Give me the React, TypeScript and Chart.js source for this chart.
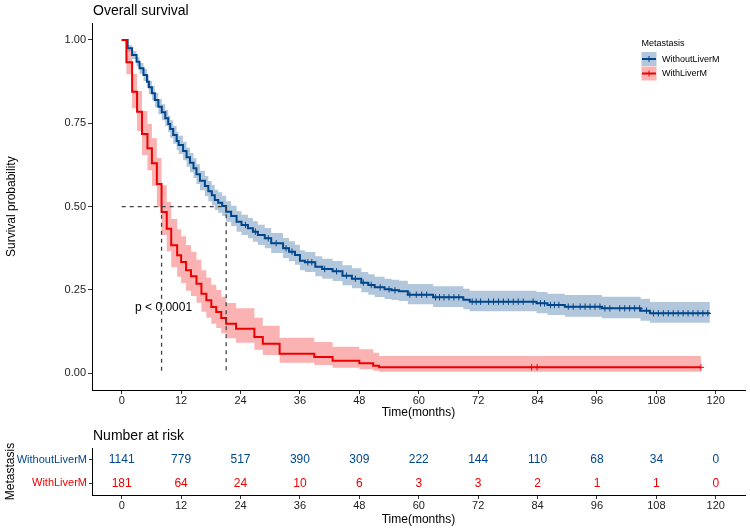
import React, { useEffect, useRef } from 'react';
import { Chart, registerables } from 'chart.js';

Chart.register(...registerables);

const FONT = "'Liberation Sans', Arial, Helvetica, sans-serif";

// ---------------- data ----------------
const strata = ['WithoutLiverM', 'WithLiverM'];
const colors = ['#00468B', '#ED0000'];
const bandColors = ['rgba(0,70,139,0.3)', 'rgba(237,0,0,0.3)'];

const blueTime = [0, 1.2, 2.1, 3.0, 3.6, 4.4, 5.1, 5.5, 6.1, 6.7, 7.4, 8.1, 8.8, 9.4, 9.8, 10.4, 11.1, 11.5, 12.4, 13.1, 13.8, 14.5, 15.1, 15.8, 16.8, 17.5, 18.2, 18.8, 19.5, 20.3, 21.1, 22.1, 23.2, 24.2, 25.5, 26.5, 27.5, 28.9, 30.2, 32.6, 33.8, 35.0, 36.0, 37.0, 39.1, 40.5, 42.6, 44.6, 46.5, 48.4, 49.8, 51.1, 53.1, 54.5, 56.0, 57.8, 62.9, 69.0, 70.3, 83.8, 86.0, 89.5, 97.0, 104.8, 106.7, 118.8];
const blueSurv = [1.0, 0.975, 0.955, 0.935, 0.915, 0.895, 0.875, 0.858, 0.84, 0.82, 0.80, 0.783, 0.765, 0.748, 0.733, 0.715, 0.697, 0.685, 0.667, 0.648, 0.632, 0.615, 0.597, 0.578, 0.562, 0.546, 0.534, 0.52, 0.512, 0.502, 0.485, 0.472, 0.455, 0.445, 0.435, 0.425, 0.415, 0.405, 0.39, 0.375, 0.365, 0.355, 0.338, 0.333, 0.32, 0.313, 0.306, 0.293, 0.284, 0.272, 0.265, 0.258, 0.252, 0.249, 0.246, 0.236, 0.228, 0.221, 0.215, 0.21, 0.205, 0.2, 0.195, 0.188, 0.18, 0.18];
const blueLower = [1.0, 0.966, 0.943, 0.921, 0.899, 0.877, 0.856, 0.838, 0.819, 0.798, 0.777, 0.759, 0.741, 0.723, 0.707, 0.689, 0.670, 0.658, 0.639, 0.620, 0.603, 0.586, 0.568, 0.549, 0.532, 0.516, 0.504, 0.490, 0.482, 0.472, 0.455, 0.442, 0.425, 0.415, 0.405, 0.395, 0.385, 0.375, 0.361, 0.346, 0.336, 0.326, 0.309, 0.304, 0.291, 0.284, 0.277, 0.264, 0.255, 0.243, 0.236, 0.229, 0.223, 0.220, 0.217, 0.207, 0.199, 0.192, 0.186, 0.180, 0.175, 0.170, 0.165, 0.158, 0.152, 0.152];
const blueUpper = [1.0, 0.984, 0.967, 0.949, 0.931, 0.913, 0.894, 0.878, 0.861, 0.842, 0.823, 0.807, 0.790, 0.773, 0.759, 0.742, 0.724, 0.713, 0.695, 0.677, 0.661, 0.645, 0.627, 0.608, 0.592, 0.577, 0.565, 0.551, 0.543, 0.533, 0.516, 0.503, 0.486, 0.476, 0.466, 0.456, 0.446, 0.436, 0.421, 0.406, 0.396, 0.386, 0.369, 0.364, 0.351, 0.344, 0.337, 0.324, 0.315, 0.304, 0.297, 0.290, 0.284, 0.281, 0.278, 0.268, 0.261, 0.254, 0.248, 0.244, 0.239, 0.235, 0.230, 0.224, 0.214, 0.214];
const blueCensor = [25.0, 27.0, 29.6, 31.2, 33.2, 34.4, 37.6, 38.4, 41.0, 43.4, 45.4, 47.2, 48.8, 50.4, 52.2, 54.0, 55.2, 58.2, 59.5, 60.6, 61.6, 63.4, 64.2, 65.1, 66.1, 67.1, 68.1, 70.8, 71.6, 72.5, 74.1, 75.1, 76.1, 77.1, 78.1, 79.1, 80.1, 81.1, 83.1, 84.6, 85.4, 86.6, 87.4, 88.3, 90.2, 91.2, 92.6, 93.6, 94.6, 95.6, 96.6, 97.6, 98.6, 100.6, 101.6, 102.6, 103.6, 104.6, 106.0, 107.4, 108.4, 109.4, 110.4, 111.4, 112.4, 113.4, 114.4, 115.4, 116.4, 117.4, 118.4];

const redTime = [0, 0.95, 2.1, 3.1, 4.1, 5.2, 6.1, 7.1, 8.05, 9.1, 10.0, 11.2, 12.0, 13.0, 14.0, 15.1, 16.1, 17.1, 18.1, 19.1, 20.1, 21.1, 23.1, 26.8, 28.5, 31.9, 38.9, 42.6, 48.0, 50.8, 52.0, 117.0];
const redSurv = [1.0, 0.933, 0.845, 0.785, 0.718, 0.675, 0.63, 0.568, 0.484, 0.434, 0.384, 0.354, 0.334, 0.309, 0.291, 0.269, 0.239, 0.219, 0.199, 0.184, 0.166, 0.149, 0.134, 0.109, 0.089, 0.059, 0.049, 0.038, 0.030, 0.023, 0.018, 0.018];
const redLower = [1.0, 0.897, 0.795, 0.727, 0.655, 0.609, 0.563, 0.499, 0.415, 0.366, 0.318, 0.290, 0.271, 0.248, 0.232, 0.212, 0.185, 0.167, 0.149, 0.136, 0.120, 0.105, 0.092, 0.071, 0.055, 0.032, 0.025, 0.017, 0.012, 0.008, 0.005, 0.005];
const redUpper = [1.0, 0.970, 0.898, 0.847, 0.787, 0.748, 0.705, 0.646, 0.564, 0.514, 0.463, 0.432, 0.411, 0.385, 0.365, 0.341, 0.309, 0.287, 0.266, 0.250, 0.230, 0.211, 0.195, 0.167, 0.143, 0.107, 0.094, 0.080, 0.072, 0.062, 0.052, 0.052];
const redCensor = [82.8, 83.9, 117.0];

const medianBlue = 21.1;
const medianRed = 8.05;
const medianLevel = 0.5;

const xTicks = [0, 12, 24, 36, 48, 60, 72, 84, 96, 108, 120];
const yTicks = [0, 0.25, 0.5, 0.75, 1.0];

const riskTimes = [0, 12, 24, 36, 48, 60, 72, 84, 96, 108, 120];
const riskWithout = [1141, 779, 517, 390, 309, 222, 144, 110, 68, 34, 0];
const riskWith = [181, 64, 24, 10, 6, 3, 3, 2, 1, 1, 0];

const titleText = 'Overall survival';
const riskTitle = 'Number at risk';
const pValueText = 'p < 0.0001';
const xTitle = 'Time(months)';
const yTitle = 'Survival probability';
const legendTitle = 'Metastasis';

// ---------------- helpers ----------------
const toPts = (t: number[], v: number[]) => t.map((x, i) => ({ x, y: v[i] }));
const stepAt = (t: number[], v: number[], at: number) => {
  let val = v[0];
  for (let i = 0; i < t.length; i++) if (t[i] <= at) val = v[i];
  return val;
};

const X_MIN = -6;
const X_MAX = 125.9;
const LEFT_W = 92;

const bandDs = (data: any[], color: string, fill: any, order: number) => ({
  data,
  stepped: true,
  borderWidth: 0.01,
  borderColor: 'rgba(0,0,0,0)',
  backgroundColor: color,
  fill,
  pointRadius: 0,
  order,
});

const topDecor = {
  id: 'topDecor',
  afterDraw(chart: any) {
    const { ctx, chartArea, scales } = chart;
    ctx.save();
    ctx.fillStyle = '#000';
    ctx.textBaseline = 'middle';
    ctx.textAlign = 'left';
    ctx.font = `14px ${FONT}`;
    ctx.fillText(titleText, chartArea.left + 1, 11);
    ctx.font = `12px ${FONT}`;
    ctx.fillText(pValueText, scales.x.getPixelForValue(2.7), scales.y.getPixelForValue(0.197));
    // legend
    ctx.font = `9px ${FONT}`;
    ctx.fillText(legendTitle, 641.5, 43.5);
    strata.forEach((s, i) => {
      const y0 = 52 + i * 14.5;
      ctx.fillStyle = bandColors[i];
      ctx.fillRect(641.5, y0, 15, 14);
      ctx.strokeStyle = colors[i];
      ctx.lineWidth = 2;
      ctx.beginPath();
      ctx.moveTo(642, y0 + 7);
      ctx.lineTo(656, y0 + 7);
      ctx.stroke();
      ctx.lineWidth = 1;
      ctx.beginPath();
      ctx.moveTo(649, y0 + 4);
      ctx.lineTo(649, y0 + 10);
      ctx.stroke();
      ctx.fillStyle = '#000';
      ctx.fillText(s, 662, y0 + 7.5);
    });
    ctx.restore();
  },
};

const botDecor = {
  id: 'botDecor',
  afterDraw(chart: any) {
    const { ctx, chartArea } = chart;
    ctx.save();
    ctx.fillStyle = '#000';
    ctx.textBaseline = 'middle';
    ctx.textAlign = 'left';
    ctx.font = `14px ${FONT}`;
    ctx.fillText(riskTitle, chartArea.left + 1, 12);
    ctx.textAlign = 'center';
    ctx.font = `12px ${FONT}`;
    chart.data.datasets.forEach((ds: any, i: number) => {
      const meta = chart.getDatasetMeta(i);
      ctx.fillStyle = colors[i];
      meta.data.forEach((pt: any, j: number) => {
        ctx.fillText(String(ds.data[j].n), pt.x, pt.y);
      });
    });
    ctx.restore();
  },
};

const axisCommon = {
  border: { display: true, color: '#000', width: 1 },
  grid: { drawOnChartArea: false, drawTicks: true, tickLength: 4, color: '#333' },
};

function topConfig(): any {
  return {
    type: 'line',
    data: {
      datasets: [
        bandDs(toPts(blueTime, blueUpper), bandColors[0], '+1', 6),
        bandDs(toPts(blueTime, blueLower), bandColors[0], false, 6),
        bandDs(toPts(redTime, redUpper), bandColors[1], '+1', 5),
        bandDs(toPts(redTime, redLower), bandColors[1], false, 5),
        {
          label: strata[0],
          data: toPts(blueTime, blueSurv),
          stepped: true,
          borderColor: colors[0],
          borderWidth: 2,
          pointRadius: 0,
          fill: false,
          order: 4,
        },
        {
          label: strata[1],
          data: toPts(redTime, redSurv),
          stepped: true,
          borderColor: colors[1],
          borderWidth: 2,
          pointRadius: 0,
          fill: false,
          order: 3,
        },
        {
          label: 'median',
          data: [
            { x: 0, y: medianLevel },
            { x: medianBlue, y: medianLevel },
            { x: medianBlue, y: 0 },
            { x: medianBlue, y: null },
            { x: medianRed, y: medianLevel },
            { x: medianRed, y: 0 },
          ],
          borderColor: '#444',
          borderWidth: 1.3,
          borderDash: [4, 4],
          pointRadius: 0,
          spanGaps: false,
          fill: false,
          order: 2,
        },
        {
          label: 'blueCensor',
          data: blueCensor.map((t) => ({ x: t, y: stepAt(blueTime, blueSurv, t) })),
          showLine: false,
          pointStyle: 'cross',
          pointRadius: 3.2,
          pointBorderColor: colors[0],
          pointBorderWidth: 1,
          order: 1,
        },
        {
          label: 'redCensor',
          data: redCensor.map((t) => ({ x: t, y: stepAt(redTime, redSurv, t) })),
          showLine: false,
          pointStyle: 'cross',
          pointRadius: 3.2,
          pointBorderColor: colors[1],
          pointBorderWidth: 1,
          order: 0,
        },
      ],
    },
    options: {
      responsive: false,
      animation: false,
      devicePixelRatio: 1,
      layout: { padding: { left: 0, right: 5, top: 23.3, bottom: 0 } },
      plugins: { legend: { display: false }, tooltip: { enabled: false }, title: { display: false } },
      scales: {
        x: {
          type: 'linear',
          min: X_MIN,
          max: X_MAX,
          ...axisCommon,
          afterBuildTicks: (s: any) => { s.ticks = xTicks.map((v) => ({ value: v })); },
          afterFit: (s: any) => { s.height = 34; },
          ticks: { padding: 0, font: { family: FONT, size: 11 }, color: '#222', maxRotation: 0, autoSkip: false, callback: (v: any) => String(v) },
          title: { display: true, text: xTitle, font: { family: FONT, size: 12 }, color: '#000', padding: { top: 0, bottom: 4 } },
        },
        y: {
          type: 'linear',
          min: -0.05,
          max: 1.05,
          ...axisCommon,
          afterBuildTicks: (s: any) => { s.ticks = yTicks.map((v) => ({ value: v })); },
          afterFit: (s: any) => { s.width = LEFT_W; },
          ticks: { padding: 2, font: { family: FONT, size: 11 }, color: '#222', callback: (v: any) => Number(v).toFixed(2) },
          title: { display: true, text: yTitle, font: { family: FONT, size: 12 }, color: '#000', padding: { top: 4, bottom: 0 } },
        },
      },
    },
    plugins: [topDecor],
  };
}

function botConfig(): any {
  const counts = [riskWithout, riskWith];
  return {
    type: 'scatter',
    data: {
      datasets: strata.map((s, i) => ({
        label: s,
        data: riskTimes.map((t, j) => ({ x: t, y: s, n: counts[i][j] })),
        pointRadius: 0,
        showLine: false,
      })),
    },
    options: {
      responsive: false,
      animation: false,
      devicePixelRatio: 1,
      layout: { padding: { left: 0, right: 5, top: 24, bottom: 0 } },
      plugins: { legend: { display: false }, tooltip: { enabled: false }, title: { display: false } },
      scales: {
        x: {
          type: 'linear',
          min: X_MIN,
          max: X_MAX,
          ...axisCommon,
          afterBuildTicks: (s: any) => { s.ticks = xTicks.map((v) => ({ value: v })); },
          afterFit: (s: any) => { s.height = 36; },
          ticks: { padding: 0, font: { family: FONT, size: 11 }, color: '#222', maxRotation: 0, autoSkip: false, callback: (v: any) => String(v) },
          title: { display: true, text: xTitle, font: { family: FONT, size: 12 }, color: '#000', padding: { top: 0, bottom: 4 } },
        },
        y: {
          type: 'category',
          labels: strata,
          offset: true,
          border: { display: true, color: '#000', width: 1 },
          grid: { drawOnChartArea: false, drawTicks: true, tickLength: 3, color: '#333', offset: false },
          afterFit: (s: any) => { s.width = LEFT_W; },
          ticks: { padding: 2, font: { family: FONT, size: 11 }, color: (c: any) => colors[c.index] },
          title: { display: true, text: legendTitle, font: { family: FONT, size: 12 }, color: '#000', padding: { top: 3, bottom: 0 } },
        },
      },
    },
    plugins: [botDecor],
  };
}

export default function App() {
  const topRef = useRef<HTMLCanvasElement>(null);
  const botRef = useRef<HTMLCanvasElement>(null);
  useEffect(() => {
    const c1 = new Chart(topRef.current as HTMLCanvasElement, topConfig());
    const c2 = new Chart(botRef.current as HTMLCanvasElement, botConfig());
    return () => {
      c1.destroy();
      c2.destroy();
    };
  }, []);
  return (
    <div style={{ position: 'fixed', left: 0, top: 0, width: 750, height: 531, background: '#fff' }}>
      <canvas ref={topRef} width={750} height={424} style={{ position: 'absolute', left: 0, top: 0 }} />
      <canvas ref={botRef} width={750} height={107} style={{ position: 'absolute', left: 0, top: 424 }} />
    </div>
  );
}
